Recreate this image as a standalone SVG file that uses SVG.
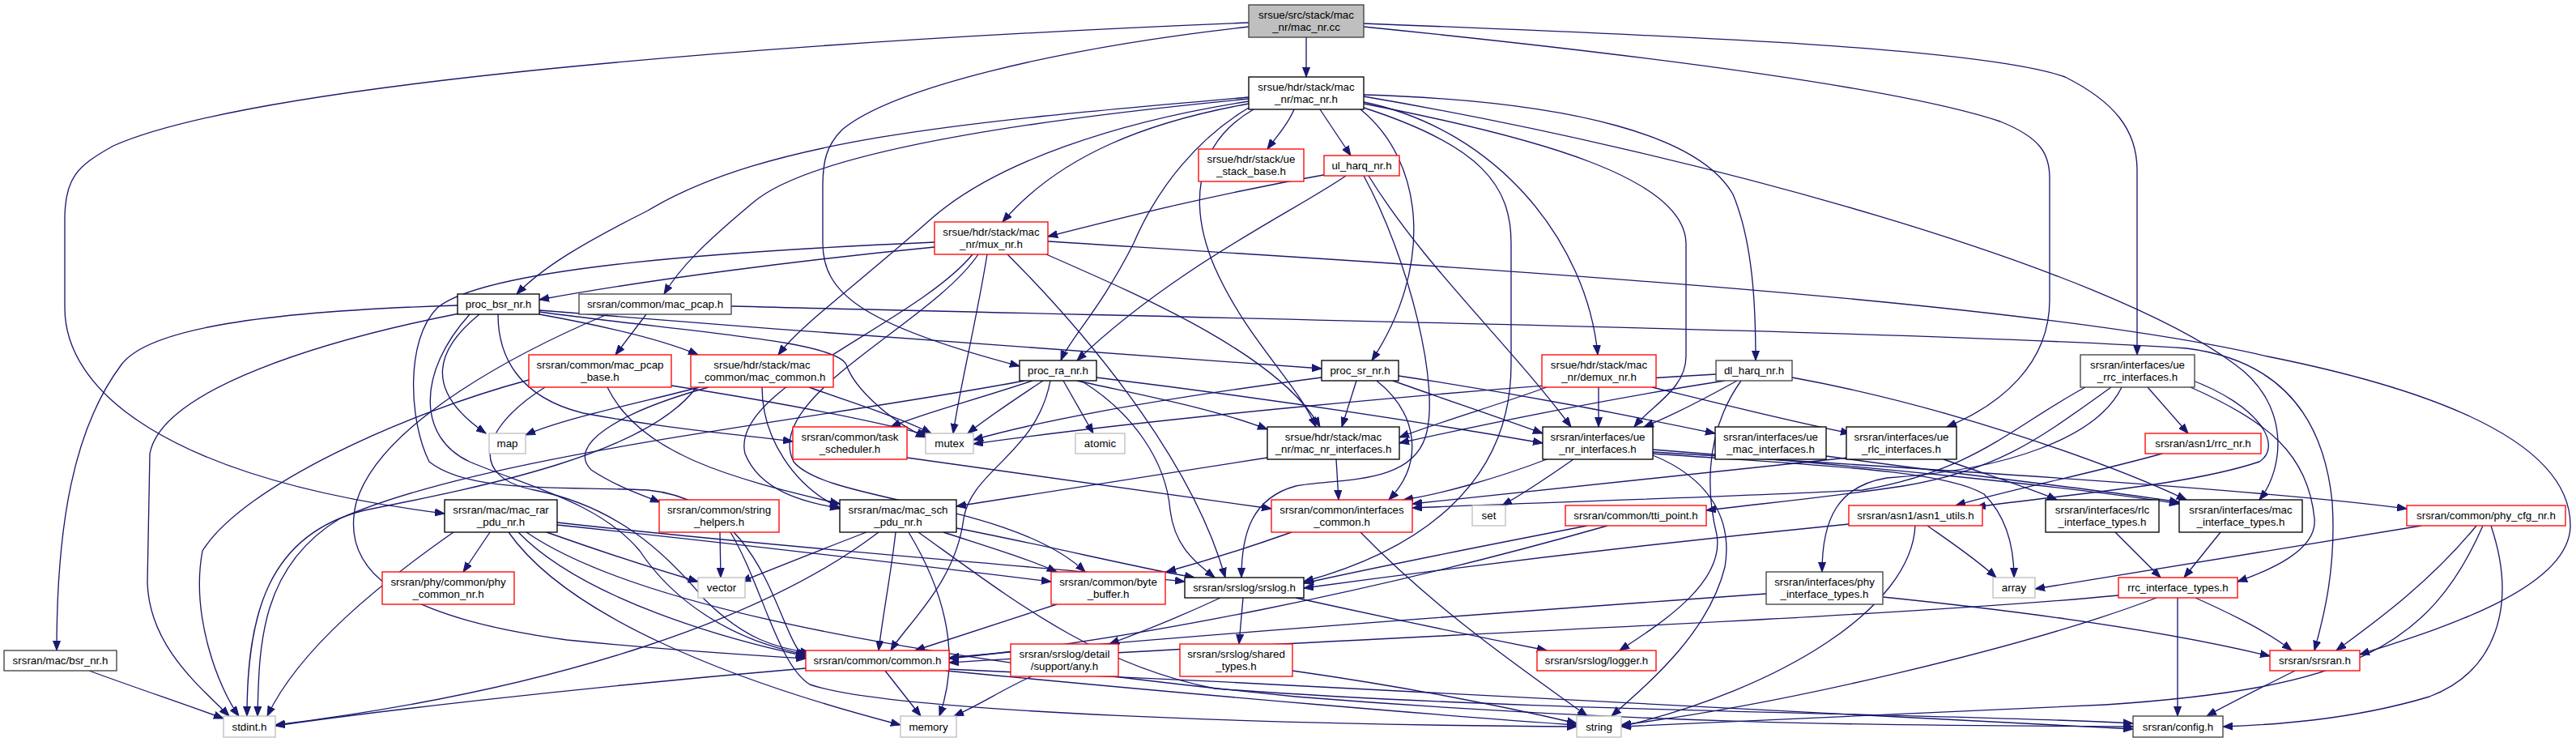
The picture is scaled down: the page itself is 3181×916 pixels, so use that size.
<svg xmlns="http://www.w3.org/2000/svg" width="3181" height="916" viewBox="0 0 3181 916">
<defs>
<marker id="a" markerWidth="13" markerHeight="10" refX="12" refY="5" orient="auto" markerUnits="userSpaceOnUse"><path d="M0,0.5 L12,5 L0,9.5 z" fill="#191970" stroke="#191970" stroke-width="1"/></marker>
<style>
.e path{fill:none;stroke:#191970;stroke-width:1.33;marker-end:url(#a)}
.n rect{fill:#fff;stroke:#000;stroke-width:1.33}
.n.r rect{stroke:#ff0000}
.n.g rect{stroke:#bfbfbf}
.n.d rect{stroke:#404040}
.n.root rect{fill:#bfbfbf;stroke:#404040}
text{font-family:"Liberation Sans",Arial,Helvetica,sans-serif;font-size:13.33px;text-anchor:middle;fill:#000}
</style>
</defs>
<rect width="3181" height="916" fill="#fff"/>
<g id="edges" class="e">
<path d="M1613,46 L1613,95"/>
<path d="M1542,28 C1000,50 320,100 140,180 C95,205 80,220 80,270 L80,380 C80,480 200,590 549,634"/>
<path d="M1542,33 C1300,60 1100,110 1040,160 C1020,180 1016,200 1016,230 L1016,300 C1016,360 1060,400 1259,452"/>
<path d="M1684,29 C2100,45 2450,60 2550,95 C2610,125 2639,160 2639,210 L2639,438"/>
<path d="M1684,33 C2050,70 2350,110 2470,150 C2520,170 2531,190 2531,220 L2531,370 C2531,450 2470,500 2404,527"/>
<path d="M1598,135 C1590,155 1575,170 1565,184"/>
<path d="M1630,135 L1668,192"/>
<path d="M1542,128 C1420,150 1310,190 1238,274"/>
<path d="M1542,120 C1200,150 950,170 800,260 C720,300 670,330 638,363"/>
<path d="M1542,122 C1250,150 1000,190 930,250 C870,300 840,330 820,363"/>
<path d="M1542,125 C1380,150 1230,200 1150,270 C1060,350 990,400 961,438"/>
<path d="M1542,133 C1480,170 1430,230 1400,300 C1360,380 1320,420 1310,445"/>
<path d="M1680,135 C1760,200 1770,330 1694,445"/>
<path d="M1684,126 C1850,160 1960,300 1973,438"/>
<path d="M1684,117 C1950,125 2100,170 2140,240 C2165,300 2168,380 2168,445"/>
<path d="M1548,135 C1470,180 1470,260 1500,330 C1540,420 1600,470 1625,527"/>
<path d="M1684,128 C1900,170 2080,220 2082,300 L2082,440 C2082,480 2040,500 2018,527"/>
<path d="M1684,133 C1830,180 1866,230 1866,300 L1866,450 C1866,600 1750,680 1610,718"/>
<path d="M1684,119 C2100,190 2600,330 2760,450 C2830,500 2820,580 2790,617"/>
<path d="M1645,214 C1500,240 1400,265 1294,292"/>
<path d="M1662,217 C1600,260 1450,330 1330,445"/>
<path d="M1690,217 C1760,330 1860,420 1940,527"/>
<path d="M1684,217 C1740,320 1780,480 1760,540 C1740,600 1650,590 1600,600 C1545,615 1533,660 1533,713"/>
<path d="M1154,305 C1000,320 800,345 666,370"/>
<path d="M1292,314 C1420,370 1580,440 1630,527"/>
<path d="M1219,314 C1205,400 1185,480 1177,535"/>
<path d="M1244,314 C1330,400 1470,560 1513,713"/>
<path d="M1201,314 C1130,400 900,480 920,560 C940,610 1000,620 1037,628"/>
<path d="M1208,314 C1150,400 940,490 980,570 C1020,620 1250,620 1340,706"/>
<path d="M1154,299 C900,310 600,330 540,380 C500,420 505,520 530,570 C580,610 700,600 800,605 C950,620 960,790 995,812"/>
<path d="M1294,298 C1800,330 2500,370 2800,440 C3100,500 3175,580 3174,650 C3172,730 3000,780 2914,808"/>
<path d="M565,377 C300,385 180,410 150,450 C90,530 70,650 70,803"/>
<path d="M567,387 C400,420 200,480 185,560 L182,720 C185,800 250,850 283,884"/>
<path d="M592,388 C540,430 520,480 600,535"/>
<path d="M615,388 C615,440 640,490 720,510 C830,530 900,535 979,545"/>
<path d="M666,383 C1000,410 1400,440 1632,455"/>
<path d="M666,388 C760,405 820,420 862,438"/>
<path d="M666,385 C850,410 1030,420 1045,450 C1055,480 1100,520 1143,540"/>
<path d="M580,388 C515,460 515,540 580,570 C650,600 740,620 790,680 C830,740 900,790 995,808"/>
<path d="M798,388 L760,438"/>
<path d="M750,388 C650,430 470,520 440,620 C420,700 480,760 700,790 C850,805 950,810 995,813"/>
<path d="M903,378 C1600,395 2400,410 2700,430 C2820,445 2870,520 2880,620 C2885,700 2870,760 2858,803"/>
<path d="M653,469 C500,510 300,600 250,680 C235,760 270,850 295,884"/>
<path d="M750,478 C790,560 900,590 1037,622"/>
<path d="M829,476 C950,495 1060,515 1145,537"/>
<path d="M673,478 C590,530 580,590 660,605 C760,625 820,680 870,740 C920,790 960,800 1000,806"/>
<path d="M864,478 C800,495 700,515 649,537"/>
<path d="M999,478 C1060,500 1110,515 1150,535"/>
<path d="M875,478 C760,510 700,550 730,580 C760,600 790,610 815,620"/>
<path d="M941,478 C941,540 980,600 1037,627"/>
<path d="M860,478 C800,560 600,600 450,630 C330,660 305,760 305,884"/>
<path d="M1275,470 C1200,495 1140,510 1100,527"/>
<path d="M1288,470 C1250,495 1220,515 1195,535"/>
<path d="M1313,470 L1350,535"/>
<path d="M1330,470 C1420,490 1500,505 1565,530"/>
<path d="M1354,466 C1550,490 1750,520 1905,547"/>
<path d="M1335,470 C1400,510 1440,570 1445,630 C1450,670 1470,690 1500,713"/>
<path d="M1297,470 C1280,560 1200,580 1190,640 C1180,720 1120,770 1100,803"/>
<path d="M1265,470 C1000,520 600,560 420,640 C320,700 320,800 318,884"/>
<path d="M1632,466 C1450,490 1300,515 1202,543"/>
<path d="M1675,470 L1657,527"/>
<path d="M1720,470 C1790,495 1850,515 1905,535"/>
<path d="M1727,464 C1900,490 2020,515 2118,535"/>
<path d="M1700,470 C1750,510 1760,570 1715,617"/>
<path d="M1910,478 C1850,500 1780,520 1728,540"/>
<path d="M1974,478 L1974,527"/>
<path d="M2040,478 C2130,500 2210,520 2285,535"/>
<path d="M2119,462 C1800,480 1400,520 1202,548"/>
<path d="M2130,470 C2000,490 1850,520 1728,547"/>
<path d="M2145,470 C2100,495 2060,515 2030,527"/>
<path d="M2213,466 C2400,500 2600,570 2700,617"/>
<path d="M2150,470 C2100,540 2110,620 2120,660 C2130,720 2050,770 2000,803"/>
<path d="M2652,478 L2702,535"/>
<path d="M2703,468 C2790,500 2820,550 2790,570 C2700,600 2550,610 2440,626"/>
<path d="M2705,478 C2800,520 2850,560 2858,640 C2862,680 2800,705 2763,718"/>
<path d="M2575,478 C2480,530 2440,580 2300,605 C2100,615 1900,620 1744,627"/>
<path d="M2607,478 C2520,540 2470,580 2350,600 C2250,615 2170,622 2107,630"/>
<path d="M2620,478 C2590,540 2480,580 2330,590 C2270,600 2250,640 2250,706"/>
<path d="M2670,560 C2580,585 2480,605 2415,624"/>
<path d="M2400,567 C2450,585 2500,600 2540,617"/>
<path d="M2282,565 C2050,590 1850,610 1744,622"/>
<path d="M1910,567 C1850,590 1780,610 1733,617"/>
<path d="M1943,567 C1910,590 1880,610 1855,624"/>
<path d="M2041,562 C2110,590 2140,640 2130,700 C2110,780 2040,840 1990,884"/>
<path d="M2041,555 C2300,575 2550,600 2691,622"/>
<path d="M2041,558 C2400,580 2800,605 2972,628"/>
<path d="M2041,560 C2250,575 2400,580 2450,610 C2480,640 2487,680 2487,713"/>
<path d="M2255,563 C2450,590 2600,605 2691,620"/>
<path d="M1650,567 L1653,617"/>
<path d="M1565,565 C1400,590 1280,610 1181,625"/>
<path d="M1120,565 C1300,590 1450,610 1570,628"/>
<path d="M560,657 C470,720 370,800 330,884"/>
<path d="M605,657 L572,706"/>
<path d="M675,657 C740,680 800,700 862,718"/>
<path d="M688,645 C1000,680 1300,700 1463,718"/>
<path d="M688,648 C900,670 1150,700 1298,718"/>
<path d="M640,657 C720,740 900,790 995,810"/>
<path d="M628,657 C700,760 900,840 1112,895"/>
<path d="M650,657 C800,760 1200,820 1600,860 C2100,900 2450,895 2634,897"/>
<path d="M889,657 L890,713"/>
<path d="M902,657 C940,720 960,820 1000,845 C1100,880 1600,895 1947,897"/>
<path d="M1070,657 C1010,680 960,700 915,718"/>
<path d="M1085,657 C950,760 700,850 340,895"/>
<path d="M1106,657 C1100,710 1090,760 1085,803"/>
<path d="M1122,657 C1160,720 1190,800 1160,884"/>
<path d="M1134,657 C1250,740 1350,820 1500,850 C1900,880 2400,880 2634,893"/>
<path d="M1165,657 C1220,675 1270,690 1305,706"/>
<path d="M1181,652 C1300,675 1400,700 1475,713"/>
<path d="M1595,657 C1530,680 1480,695 1440,706"/>
<path d="M1680,657 C1780,760 1900,840 1960,884"/>
<path d="M1960,649 C1800,680 1700,700 1610,720"/>
<path d="M1985,649 C1700,730 1400,790 1172,813"/>
<path d="M2380,649 C2410,670 2440,690 2465,713"/>
<path d="M2283,647 C2000,675 1800,700 1610,726"/>
<path d="M2365,649 C2360,750 2200,850 2002,897"/>
<path d="M2612,657 L2668,713"/>
<path d="M2742,657 L2697,713"/>
<path d="M2990,649 C2800,680 2650,705 2513,727"/>
<path d="M3058,649 C3000,720 2930,770 2885,803"/>
<path d="M3066,649 C3000,800 2900,850 2600,870 C2300,885 2100,893 2002,897"/>
<path d="M3076,649 C3110,750 3080,830 3000,860 C2900,890 2800,895 2745,897"/>
<path d="M1305,746 C1230,770 1170,790 1130,803"/>
<path d="M1507,738 C1460,760 1410,780 1370,795"/>
<path d="M1535,738 L1530,795"/>
<path d="M1600,738 C1700,760 1820,785 1910,803"/>
<path d="M2181,733 C1800,760 1400,790 1172,812"/>
<path d="M2325,737 C2550,760 2700,785 2803,810"/>
<path d="M2616,735 C2300,765 1600,790 1172,818"/>
<path d="M2663,738 C2500,800 2200,870 2002,895"/>
<path d="M2689,738 L2689,884"/>
<path d="M2711,738 C2760,760 2800,780 2830,803"/>
<path d="M995,825 C700,850 450,880 340,896"/>
<path d="M1093,828 L1137,884"/>
<path d="M1168,828 C1500,860 1800,885 1947,895"/>
<path d="M1170,826 C1700,850 2300,880 2634,900"/>
<path d="M1274,835 C1240,850 1210,870 1178,884"/>
<path d="M1596,828 C1750,850 1870,875 1947,893"/>
<path d="M2834,828 C2790,850 2750,870 2725,884"/>
<path d="M110,828 C170,850 230,870 276,887"/>
</g>
<g id="n_cc" class="n root"><rect x="1542" y="6" width="142" height="40"/><text x="1613" y="22.5">srsue/src/stack/mac</text><text x="1613" y="37.5">_nr/mac_nr.cc</text></g>
<g id="n_mac_nr_h" class="n"><rect x="1542" y="95" width="142" height="40"/><text x="1613" y="111.5">srsue/hdr/stack/mac</text><text x="1613" y="126.5">_nr/mac_nr.h</text></g>
<g id="n_ue_stack_base" class="n r"><rect x="1480" y="184" width="130" height="40"/><text x="1545" y="200.5">srsue/hdr/stack/ue</text><text x="1545" y="215.5">_stack_base.h</text></g>
<g id="n_ul_harq" class="n r"><rect x="1635" y="192" width="93" height="25"/><text x="1681.5" y="209">ul_harq_nr.h</text></g>
<g id="n_mux" class="n r"><rect x="1154" y="274" width="140" height="40"/><text x="1224" y="290.5">srsue/hdr/stack/mac</text><text x="1224" y="305.5">_nr/mux_nr.h</text></g>
<g id="n_proc_bsr" class="n"><rect x="565" y="363" width="101" height="25"/><text x="615.5" y="380">proc_bsr_nr.h</text></g>
<g id="n_mac_pcap" class="n d"><rect x="715" y="363" width="188" height="25"/><text x="809" y="380">srsran/common/mac_pcap.h</text></g>
<g id="n_mac_pcap_base" class="n r"><rect x="653" y="438" width="176" height="40"/><text x="741" y="454.5">srsran/common/mac_pcap</text><text x="741" y="469.5">_base.h</text></g>
<g id="n_mac_common" class="n r"><rect x="853" y="438" width="176" height="40"/><text x="941" y="454.5">srsue/hdr/stack/mac</text><text x="941" y="469.5">_common/mac_common.h</text></g>
<g id="n_proc_ra" class="n"><rect x="1259" y="445" width="95" height="25"/><text x="1306.5" y="462">proc_ra_nr.h</text></g>
<g id="n_proc_sr" class="n"><rect x="1632" y="445" width="95" height="25"/><text x="1679.5" y="462">proc_sr_nr.h</text></g>
<g id="n_demux" class="n r"><rect x="1904" y="438" width="141" height="40"/><text x="1974.5" y="454.5">srsue/hdr/stack/mac</text><text x="1974.5" y="469.5">_nr/demux_nr.h</text></g>
<g id="n_dl_harq" class="n d"><rect x="2119" y="445" width="94" height="25"/><text x="2166" y="462">dl_harq_nr.h</text></g>
<g id="n_ue_rrc_if" class="n d"><rect x="2569" y="438" width="141" height="40"/><text x="2639.5" y="454.5">srsran/interfaces/ue</text><text x="2639.5" y="469.5">_rrc_interfaces.h</text></g>
<g id="n_map" class="n g"><rect x="604" y="535" width="45" height="25"/><text x="626.5" y="552">map</text></g>
<g id="n_task_sched" class="n r"><rect x="979" y="527" width="141" height="40"/><text x="1049.5" y="543.5">srsran/common/task</text><text x="1049.5" y="558.5">_scheduler.h</text></g>
<g id="n_mutex" class="n g"><rect x="1143" y="535" width="59" height="25"/><text x="1172.5" y="552">mutex</text></g>
<g id="n_atomic" class="n g"><rect x="1328" y="535" width="61" height="25"/><text x="1358.5" y="552">atomic</text></g>
<g id="n_mac_nr_if" class="n"><rect x="1565" y="527" width="163" height="40"/><text x="1646.5" y="543.5">srsue/hdr/stack/mac</text><text x="1646.5" y="558.5">_nr/mac_nr_interfaces.h</text></g>
<g id="n_ue_nr_if" class="n"><rect x="1905" y="527" width="136" height="40"/><text x="1973" y="543.5">srsran/interfaces/ue</text><text x="1973" y="558.5">_nr_interfaces.h</text></g>
<g id="n_ue_mac_if" class="n"><rect x="2118" y="527" width="137" height="40"/><text x="2186.5" y="543.5">srsran/interfaces/ue</text><text x="2186.5" y="558.5">_mac_interfaces.h</text></g>
<g id="n_ue_rlc_if" class="n"><rect x="2280" y="527" width="136" height="40"/><text x="2348" y="543.5">srsran/interfaces/ue</text><text x="2348" y="558.5">_rlc_interfaces.h</text></g>
<g id="n_rrc_nr" class="n r"><rect x="2649" y="535" width="143" height="25"/><text x="2720.5" y="552">srsran/asn1/rrc_nr.h</text></g>
<g id="n_mac_rar" class="n"><rect x="549" y="617" width="139" height="40"/><text x="618.5" y="633.5">srsran/mac/mac_rar</text><text x="618.5" y="648.5">_pdu_nr.h</text></g>
<g id="n_string_helpers" class="n r"><rect x="814" y="617" width="148" height="40"/><text x="888" y="633.5">srsran/common/string</text><text x="888" y="648.5">_helpers.h</text></g>
<g id="n_mac_sch" class="n"><rect x="1037" y="617" width="144" height="40"/><text x="1109" y="633.5">srsran/mac/mac_sch</text><text x="1109" y="648.5">_pdu_nr.h</text></g>
<g id="n_if_common" class="n r"><rect x="1570" y="617" width="174" height="40"/><text x="1657" y="633.5">srsran/common/interfaces</text><text x="1657" y="648.5">_common.h</text></g>
<g id="n_set" class="n g"><rect x="1818" y="624" width="41" height="25"/><text x="1838.5" y="641">set</text></g>
<g id="n_tti_point" class="n r"><rect x="1933" y="624" width="174" height="25"/><text x="2020" y="641">srsran/common/tti_point.h</text></g>
<g id="n_asn1_utils" class="n r"><rect x="2283" y="624" width="165" height="25"/><text x="2365.5" y="641">srsran/asn1/asn1_utils.h</text></g>
<g id="n_rlc_types" class="n"><rect x="2526" y="617" width="140" height="40"/><text x="2596" y="633.5">srsran/interfaces/rlc</text><text x="2596" y="648.5">_interface_types.h</text></g>
<g id="n_mac_types" class="n"><rect x="2691" y="617" width="152" height="40"/><text x="2767" y="633.5">srsran/interfaces/mac</text><text x="2767" y="648.5">_interface_types.h</text></g>
<g id="n_phy_cfg_nr" class="n r"><rect x="2972" y="624" width="196" height="25"/><text x="3070" y="641">srsran/common/phy_cfg_nr.h</text></g>
<g id="n_phy_common_nr" class="n r"><rect x="472" y="706" width="163" height="40"/><text x="553.5" y="722.5">srsran/phy/common/phy</text><text x="553.5" y="737.5">_common_nr.h</text></g>
<g id="n_vector" class="n g"><rect x="862" y="713" width="58" height="25"/><text x="891" y="730">vector</text></g>
<g id="n_byte_buffer" class="n r"><rect x="1298" y="706" width="141" height="40"/><text x="1368.5" y="722.5">srsran/common/byte</text><text x="1368.5" y="737.5">_buffer.h</text></g>
<g id="n_srslog" class="n"><rect x="1463" y="713" width="147" height="25"/><text x="1536.5" y="730">srsran/srslog/srslog.h</text></g>
<g id="n_phy_types" class="n d"><rect x="2181" y="706" width="144" height="40"/><text x="2253" y="722.5">srsran/interfaces/phy</text><text x="2253" y="737.5">_interface_types.h</text></g>
<g id="n_array" class="n g"><rect x="2461" y="713" width="52" height="25"/><text x="2487" y="730">array</text></g>
<g id="n_rrc_types" class="n r"><rect x="2616" y="713" width="147" height="25"/><text x="2689.5" y="730">rrc_interface_types.h</text></g>
<g id="n_bsr_nr" class="n d"><rect x="5" y="803" width="139" height="25"/><text x="74.5" y="820">srsran/mac/bsr_nr.h</text></g>
<g id="n_common" class="n r"><rect x="995" y="803" width="177" height="25"/><text x="1083.5" y="820">srsran/common/common.h</text></g>
<g id="n_any" class="n r"><rect x="1248" y="795" width="133" height="40"/><text x="1314.5" y="811.5">srsran/srslog/detail</text><text x="1314.5" y="826.5">/support/any.h</text></g>
<g id="n_shared_types" class="n r"><rect x="1457" y="795" width="139" height="40"/><text x="1526.5" y="811.5">srsran/srslog/shared</text><text x="1526.5" y="826.5">_types.h</text></g>
<g id="n_logger" class="n r"><rect x="1898" y="803" width="147" height="25"/><text x="1971.5" y="820">srsran/srslog/logger.h</text></g>
<g id="n_srsran" class="n r"><rect x="2803" y="803" width="111" height="25"/><text x="2858.5" y="820">srsran/srsran.h</text></g>
<g id="n_stdint" class="n g"><rect x="276" y="884" width="64" height="26"/><text x="308" y="901.5">stdint.h</text></g>
<g id="n_memory" class="n g"><rect x="1112" y="884" width="69" height="26"/><text x="1146.5" y="901.5">memory</text></g>
<g id="n_string" class="n g"><rect x="1947" y="884" width="55" height="26"/><text x="1974.5" y="901.5">string</text></g>
<g id="n_config" class="n d"><rect x="2634" y="884" width="111" height="26"/><text x="2689.5" y="901.5">srsran/config.h</text></g>
</svg>
